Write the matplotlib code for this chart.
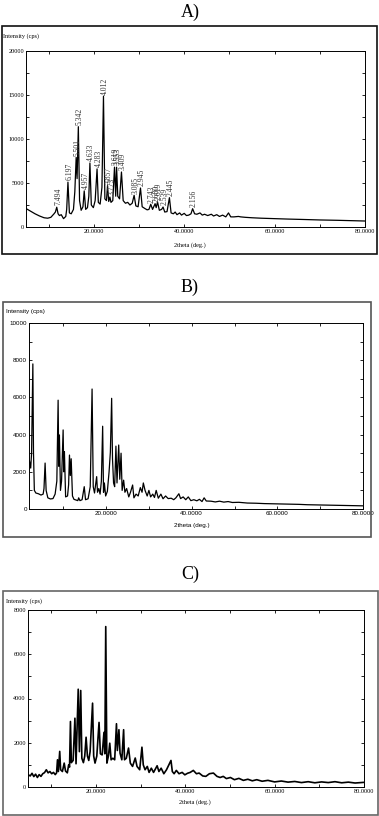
import numpy as np
import matplotlib.pyplot as plt
from matplotlib.patches import Rectangle

W, H = 379, 816

# ---- pattern A (labelled with d-spacings) ----
a_tth = [5.0, 6, 7, 8, 9, 9.8, 10.5, 11.2, 11.5, 11.8, 12.1, 12.4, 12.8, 13.3, 13.8, 14.0,
         14.28, 14.6, 15.0, 15.5, 15.8, 16.10, 16.3, 16.58, 16.85, 17.2, 17.6, 17.88, 18.2,
         18.6, 18.9, 19.14, 19.45, 19.9, 20.3, 20.72, 21.0, 21.4, 21.8, 22.14, 22.45, 22.8,
         23.04, 23.3, 23.56, 23.8, 24.2, 24.58, 24.85, 25.04, 25.3, 25.7, 26.12, 26.5, 27,
         27.5, 28, 28.5, 28.92, 29.3, 29.8, 30.33, 30.7, 31.3, 31.8, 32.2, 32.6, 33, 33.56,
         33.8, 34.1, 34.5, 35, 35.32, 35.7, 36.2, 36.73, 37.1, 37.6, 38, 38.4, 39, 39.4, 40,
         40.5, 41, 41.5, 41.86, 42.3, 42.8, 43.5, 44, 44.5, 45.2, 46, 46.5, 47.2, 47.8, 48.5,
         49.2, 49.8, 50.3, 51, 52, 52.5, 53.5, 55, 57, 60, 63, 66, 70, 74, 77, 80]
a_int = [2100, 1800, 1500, 1250, 1050, 1000, 1100, 1500, 1700, 2250, 1500, 1300, 1400, 950,
         1200, 2000, 5100, 1600, 1500, 2000, 4000, 7900, 5500, 11400, 3000, 1900, 2300, 4100,
         2000, 2200, 3500, 7270, 2500, 2200, 3000, 6600, 2800, 2600, 4500, 14850, 3200, 3000,
         4700, 2900, 3400, 2800, 3000, 6800, 3500, 6800, 3500, 3200, 6250, 3000, 2700, 2800,
         2500, 2700, 3600, 2400, 2300, 4430, 2300, 2100, 1950, 2000, 2580, 2000, 2650, 2200,
         2840, 1900, 2000, 2270, 1700, 1750, 3330, 1600, 1500, 1700, 1400, 1600, 1350, 1550,
         1300, 1350, 1500, 2080, 1500, 1450, 1600, 1350, 1450, 1300, 1450, 1250, 1400, 1200,
         1350, 1150, 1600, 1150, 1150, 1200, 1150, 1100, 1050, 1000, 950, 900, 860, 800, 760,
         720, 680]
a_peak_tth = [11.8, 14.28, 16.10, 16.58, 17.88, 19.14, 20.72, 22.14, 23.04, 23.56, 24.58,
              25.04, 26.12, 28.92, 30.33, 32.6, 33.56, 34.1, 35.32, 36.73, 41.86]
a_peak_int = [2250, 5100, 7900, 11400, 4100, 7270, 6600, 14850, 4700, 3400, 6800,
              6800, 6250, 3600, 4430, 2580, 2650, 2840, 2270, 3330, 2080]
a_peak_d = ['7.494', '6.197', '5.501', '5.342', '4.957', '4.633', '4.283', '4.012', '3.857',
            '3.773', '3.619', '3.553', '3.409', '3.085', '2.945', '2.743', '2.680', '2.619',
            '2.539', '2.445', '2.156']

# ---- pattern B ----
b_tth = [2.1, 2.4, 2.6, 2.9, 3.05, 3.25, 3.6, 4.2, 4.8, 5.3, 5.5, 5.76, 6.0, 6.4, 7.0, 7.6,
         8.1, 8.5, 8.8, 8.95, 9.1, 9.35, 9.6, 9.97, 10.12, 10.27, 10.55, 11.0, 11.25, 11.45,
         11.65, 11.85, 12.15, 12.5, 13.0, 13.4, 13.6, 13.9, 14.4, 14.9, 15.2, 15.8, 16.3,
         16.73, 17.0, 17.3, 17.8, 18.0, 18.3, 18.6, 18.9, 19.2, 19.4, 19.6, 19.9, 20.3, 20.7,
         21.0, 21.3, 21.5, 21.75, 22.0, 22.3, 22.55, 22.95, 23.2, 23.5, 23.75, 24.1, 24.4,
         24.8, 25.3, 25.7, 26.2, 26.5, 27.0, 27.5, 28.0, 28.4, 28.7, 29.1, 29.6, 30.0, 30.4,
         30.9, 31.3, 31.7, 32.2, 32.8, 33.3, 33.9, 34.5, 35.2, 35.8, 36.3, 37.0, 37.4, 38.0,
         38.6, 39.2, 39.8, 40.5, 41.2, 41.8, 42.4, 42.9, 43.4, 44.5, 45.5, 46.5, 47.5, 48.5,
         49.5, 51, 53, 55, 57, 59, 61, 63, 65, 67, 69, 71, 73, 75, 77, 80]
b_int = [2600, 2200, 3000, 7800, 3000, 1000, 860, 820, 750, 800, 1100, 2470, 1000, 600, 540,
         560, 800, 1500, 5850, 2300, 3980, 1000, 1500, 4250, 2000, 3080, 650, 700, 1300, 2900,
         1800, 2700, 700, 520, 480, 450, 600, 450, 500, 1200, 500, 550, 1200, 6450, 1200, 860,
         1740, 900, 1100, 800, 1500, 4450, 900, 1400, 700, 950, 2000, 3050, 5950, 2700, 1400,
         1200, 3380, 1400, 3440, 1600, 3000, 1000, 1550, 900, 1100, 650, 900, 1290, 600, 800,
         700, 1150, 900, 1400, 1000, 700, 1000, 650, 800, 620, 1000, 580, 800, 550, 700, 560,
         580, 500, 600, 820, 560, 650, 500, 650, 450, 500, 440, 520, 400, 600, 430, 420, 380,
         420, 370, 400, 350, 360, 320, 310, 290, 280, 270, 260, 250, 230, 220, 210, 200, 190,
         180, 170]

# ---- pattern C ----
c_tth = [4.8, 5.3, 5.7, 6.1, 6.5, 6.9, 7.3, 7.7, 8.1, 8.5, 8.9, 9.3, 9.7, 10.1, 10.5, 10.9,
         11.2, 11.4, 11.6, 11.9, 12.1, 12.5, 12.9, 13.2, 13.6, 13.9, 14.1, 14.3, 14.5, 14.9,
         15.3, 15.55, 16.04, 16.3, 16.6, 16.85, 17.2, 17.5, 17.8, 18.1, 18.4, 18.7, 19.25,
         19.5, 19.8, 20.2, 20.7, 21.0, 21.4, 21.8, 22.0, 22.2, 22.45, 22.8, 23.1, 23.4, 23.8,
         24.2, 24.6, 24.8, 25.15, 25.4, 25.8, 26.2, 26.4, 26.8, 27.3, 27.7, 28.2, 28.8, 29.2,
         29.8, 30.3, 30.6, 31.0, 31.5, 31.9, 32.4, 32.9, 33.7, 34.1, 34.6, 35.2, 35.8, 36.8,
         37.1, 37.5, 38.0, 38.6, 39.3, 39.9, 40.5, 41.1, 41.8, 42.5, 43.1, 43.9, 44.6, 45.4,
         46.3, 47.1, 47.8, 48.5, 49.2, 50.1, 51.0, 52.0, 53.0, 54.0, 55.0, 56.0, 57.2, 58.5,
         60.0, 61.5, 63.0, 64.5, 66.0, 67.5, 69.0, 70.5, 72.0, 73.5, 75.0, 76.5, 78.0, 80.0]
c_int = [560, 500, 620, 470, 580, 430, 560, 480, 600, 650, 780, 640, 700, 600, 660, 560, 640,
         1230, 700, 1610, 780, 700, 1080, 720, 640, 1000, 900, 2960, 1100, 1200, 3110, 1050,
         4420, 1600, 4360, 1300, 1100, 1400, 2250, 1400, 1200, 1600, 3790, 1400, 1080, 1400,
         2920, 1500, 1450, 2470, 1500, 7250, 1080, 1400, 1980, 1230, 1300, 1230, 2860, 1650,
         2590, 1530, 1230, 2590, 1230, 1300, 1760, 1080, 930, 1310, 930, 780, 1800, 1000, 780,
         930, 660, 850, 660, 960, 700, 850, 600, 780, 1200, 700, 600, 750, 600, 660, 550, 620,
         660, 750, 600, 630, 500, 480, 600, 630, 480, 430, 480, 380, 430, 330, 390, 300, 350,
         280, 330, 260, 300, 230, 270, 220, 250, 200, 240, 190, 230, 200, 240, 190, 220, 180,
         210]

x_ticks = [10, 20, 30, 40, 50, 60, 70, 80]
x_ticklabels = ['', '20.0000', '', '40.0000', '', '60.0000', '', '80.0000']

SERIF = 'Liberation Serif'
SANS = 'Liberation Sans'


def frac(l, t, r, b):
    return [l / W, 1 - b / H, (r - l) / W, (b - t) / H]


def panel(fig, rect, box, tag, tag_y, tth, inten, xmin, ymax, ystep, ylab_step,
          family, lw, ylab_pos, xlab_pos, box_color):
    fig.add_artist(Rectangle((box[0] / W, 1 - box[3] / H), (box[2] - box[0]) / W,
                             (box[3] - box[1]) / H, transform=fig.transFigure,
                             fill=False, ec=box_color, lw=1.2))
    fig.text(190 / W, 1 - tag_y / H, tag, ha='center', va='center',
             fontsize=13, family=SERIF)
    ax = fig.add_axes(frac(*rect))
    ax.plot(tth, inten, color='black', lw=lw)
    ax.set_xlim(xmin, 80)
    ax.set_ylim(0, ymax)
    ax.set_xticks(x_ticks)
    ax.set_xticklabels(x_ticklabels)
    yt = np.arange(0, ymax + 1, ystep)
    ax.set_yticks(yt)
    ax.set_yticklabels([f'{int(v)}' if v % ylab_step == 0 else '' for v in yt])
    ax.tick_params(direction='in', top=True, right=True, length=2.5, width=0.6,
                   labelsize=4.5, pad=1.5)
    for lab in ax.get_xticklabels() + ax.get_yticklabels():
        lab.set_family(family)
    for s in ax.spines.values():
        s.set_linewidth(0.7)
    fig.text(ylab_pos[0] / W, 1 - ylab_pos[1] / H, 'Intensity (cps)', ha='left',
             va='center', fontsize=4.5, family=family)
    fig.text(xlab_pos[0] / W, 1 - xlab_pos[1] / H, '2theta (deg.)', ha='center',
             va='center', fontsize=4.5, family=family)
    return ax


fig = plt.figure(figsize=(W / 100, H / 100), dpi=100)

ax_a = panel(fig, (26, 51, 365, 227), (2, 26, 377, 254), 'A)', 12, a_tth, a_int,
             5, 20000, 2500, 5000, SERIF, 0.9, (3, 36), (190, 245), '#111111')
for x, y, t in zip(a_peak_tth, a_peak_int, a_peak_d):
    ax_a.text(x + 0.3, y + 200, t, rotation=90, ha='center', va='bottom',
              fontsize=5.5, family=SERIF, color='#333333')

panel(fig, (29, 323, 363, 509), (3, 302, 371, 537), 'B)', 287, b_tth, b_int,
      2, 10000, 1000, 2000, SANS, 0.9, (6, 311), (192, 525), '#555555')

panel(fig, (28, 610, 364, 787), (3, 591, 378, 815), 'C)', 574, c_tth, c_int,
      4.8, 8000, 1000, 2000, SERIF, 1.2, (6, 601), (195, 802), '#666666')

fig.savefig('out.png', dpi=100)
